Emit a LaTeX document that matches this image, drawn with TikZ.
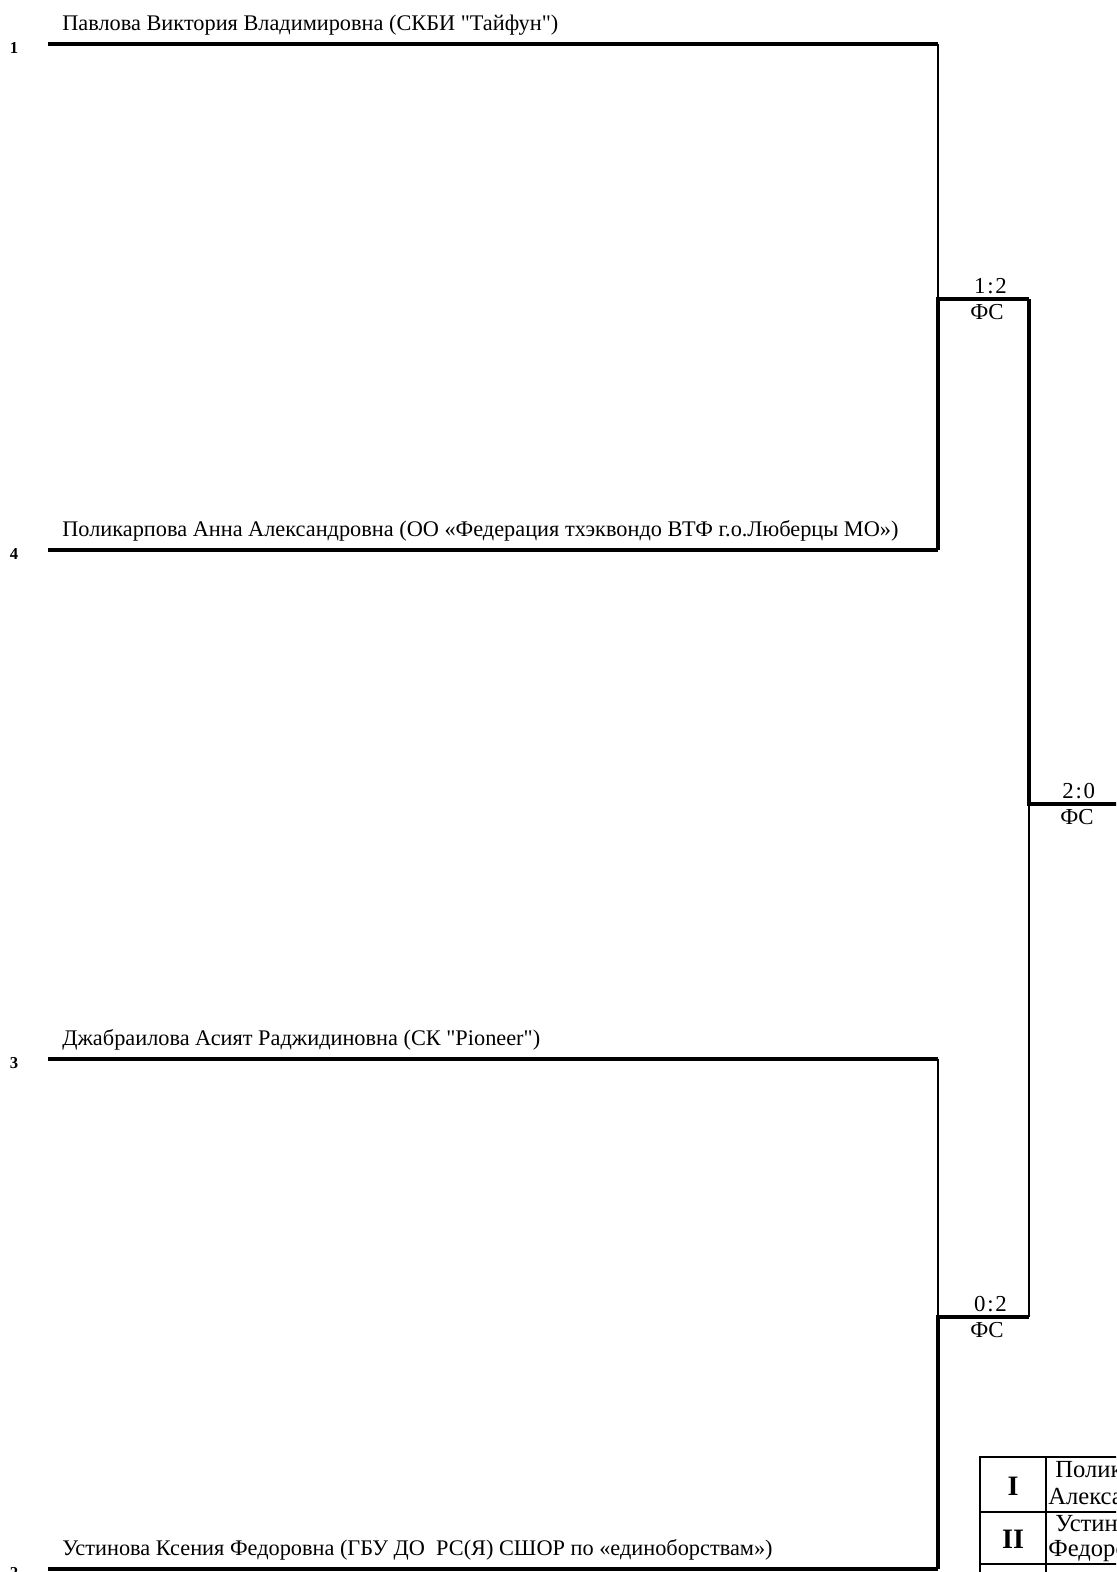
\documentclass[tikz,border=0pt]{standalone}
\usepackage{fontspec}
\setmainfont{Liberation Serif}[Ligatures=TeXOff]
\usetikzlibrary{calc,positioning}
\tikzset{
  win/.style={line width=2.3pt},
  los/.style={line width=1pt},
  plname/.style={anchor=south west,inner sep=0pt,font=\fontsize{12.7}{15}\selectfont},
  seed/.style={inner sep=0pt,font=\fontsize{9.5}{10}\selectfont\bfseries},
  score/.style={inner sep=3pt,font=\fontsize{13}{15}\selectfont},
  place/.style={inner sep=0pt,font=\fontsize{16}{18}\selectfont\bfseries},
  cell/.style={anchor=west,inner sep=0pt,font=\fontsize{14}{16}\selectfont}
}
\newcommand{\scr}[2]{#1\kern1pt:\kern1pt#2}
\begin{document}
\begin{tikzpicture}[x=0.02cm,y=-0.02cm]
  \useasboundingbox (0,0) rectangle (1116,1572);
  \clip (0,0) rectangle (1116,1572);
  \fill[white] (0,0) rectangle (1116,1572);

  \foreach \s/\y/\n in {
      1/44/{Павлова Виктория Владимировна (СКБИ "Тайфун")},
      4/550/{Поликарпова Анна Александровна (ОО «Федерация тхэквондо ВТФ г.о.Люберцы МО»)},
      3/1059/{Джабраилова Асият Раджидиновна (СК "Pioneer")},
      2/1569/{Устинова Ксения Федоровна (ГБУ ДО\ \ РС(Я) СШОР по «единоборствам»)}} {
    \coordinate (a\s) at (48,\y);
    \coordinate (b\s) at (938,\y);
    \node[seed] (s\s) at (14,\y+4) {\s};
    \node[plname] (n\s) at (62,\y-8) {\n};
    \draw[win] (a\s) -- (b\s);
  }

  \coordinate (m1) at (938,299);
  \coordinate (f1) at (1029,299);
  \coordinate (m2) at (938,1317);
  \coordinate (f2) at (1029,1317);
  \coordinate (w) at (1029,804);
  \coordinate (e) at (1140,804);

  \draw[los] (b1) -- (m1);
  \draw[win,line join=miter] (b4) -- (m1) -- (f1);
  \draw[los] (b3) -- (m2);
  \draw[win,line join=miter] (b2) -- (m2) -- (f2);
  \draw[win,line join=miter] (f1) -- (w) -- (e);
  \draw[los] (w) -- (f2);

  \path (m1) -- node[score,above,xshift=4pt] (r1) {\scr12} node[score,below,xshift=2pt] (c1) {ФС} (f1);
  \path (m2) -- node[score,above,xshift=4pt] (r2) {\scr02} node[score,below,xshift=2pt] (c2) {ФС} (f2);
  \path (w) -- node[score,above,xshift=1pt] (r3) {\scr20} node[score,below] (c3) {ФС} ($(w)+(96,0)$);

  \begin{scope}[line width=1pt]
    \draw (1140,1457) -- (980,1457) -- (980,1600);
    \draw (1046,1457) -- (1046,1600);
    \draw (980,1512) -- (1140,1512);
    \draw (980,1564) -- (1140,1564);
  \end{scope}
  \node[place] (p1) at (1013,1486) {I};
  \node[place] (p2) at (1013,1539) {II};
  \node[cell] (t1) at (1055,1472) {Поликарпова Анна};
  \node[cell] (t2) at (1048,1499) {Александровна};
  \node[cell] (t3) at (1055,1524) {Устинова Ксения};
  \node[cell] (t4) at (1048,1551) {Федоровна};
\end{tikzpicture}
\end{document}
